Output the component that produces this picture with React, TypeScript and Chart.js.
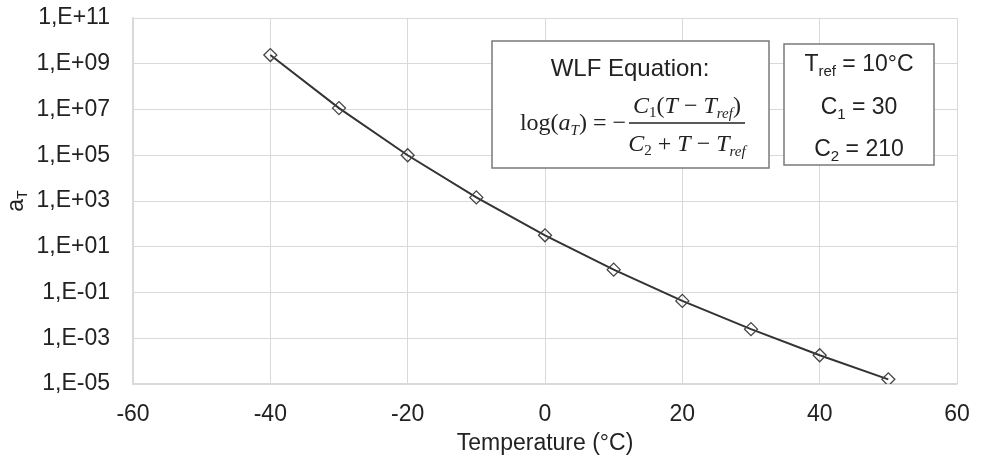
import React, { useEffect, useRef } from "react";
import { Chart, registerables } from "chart.js";

Chart.register(...registerables);

// ---- data ----
const temperatures = [-40, -30, -20, -10, 0, 10, 20, 30, 40, 50];
const shiftFactors = [2.4e9, 1.15e7, 1.0e5, 1.44e3, 31.6, 1.0, 4.3e-2, 2.5e-3, 1.8e-4, 1.6e-5];
const yTickValues = [1e-5, 1e-3, 1e-1, 1e1, 1e3, 1e5, 1e7, 1e9, 1e11];
const xTickValues = [-60, -40, -20, 0, 20, 40, 60];
const xAxisTitle = "Temperature (°C)";
const equationTitle = "WLF Equation:";
const constantLabels = ["10°C", "30", "210"];

const SANS = '"Liberation Sans", Arial, sans-serif';
const SERIF = '"Liberation Serif", "Times New Roman", serif';
const TEXT = "#222222";
const GRID = "#d9d9d9";

type Run = { t: string; f: string; dy?: number };

function runsWidth(ctx: CanvasRenderingContext2D, runs: Run[]) {
  let w = 0;
  for (const r of runs) {
    ctx.font = r.f;
    w += ctx.measureText(r.t).width;
  }
  return w;
}

function drawRuns(ctx: CanvasRenderingContext2D, runs: Run[], x: number, y: number, align: "left" | "center" | "right") {
  const w = runsWidth(ctx, runs);
  let cx = align === "left" ? x : align === "center" ? x - w / 2 : x - w;
  ctx.textAlign = "left";
  ctx.textBaseline = "alphabetic";
  for (const r of runs) {
    ctx.font = r.f;
    ctx.fillText(r.t, cx, y + (r.dy || 0));
    cx += ctx.measureText(r.t).width;
  }
}

const annotationPlugin = {
  id: "wlfAnnotations",
  afterDraw(chart: any) {
    const ctx: CanvasRenderingContext2D = chart.ctx;
    ctx.save();
    ctx.fillStyle = TEXT;

    // y-axis title a_T (rotated)
    ctx.save();
    ctx.translate(16, 201);
    ctx.rotate(-Math.PI / 2);
    drawRuns(ctx, [
      { t: "a", f: `23px ${SANS}` },
      { t: "T", f: `14px ${SANS}`, dy: 4 },
    ], 0, 7, "center");
    ctx.restore();

    // Equation box
    const bx = 492, by = 41, bw = 277, bh = 127;
    ctx.fillStyle = "#ffffff";
    ctx.fillRect(bx, by, bw, bh);
    ctx.strokeStyle = "#7a7a7a";
    ctx.lineWidth = 1.5;
    ctx.strokeRect(bx, by, bw, bh);
    ctx.fillStyle = TEXT;
    ctx.font = `24px ${SANS}`;
    ctx.textAlign = "center";
    ctx.textBaseline = "alphabetic";
    ctx.fillText(equationTitle, 630, 76);

    const up = `24px ${SERIF}`;
    const it = `italic 24px ${SERIF}`;
    const smUp = `15px ${SERIF}`;
    const smIt = `italic 15px ${SERIF}`;
    drawRuns(ctx, [
      { t: "log(", f: up },
      { t: "a", f: it },
      { t: "T", f: smIt, dy: 5 },
      { t: ") = \u2212", f: up },
    ], 626, 130, "right");
    // fraction bar
    ctx.strokeStyle = TEXT;
    ctx.lineWidth = 1.3;
    ctx.beginPath();
    ctx.moveTo(629, 123);
    ctx.lineTo(745, 123);
    ctx.stroke();
    drawRuns(ctx, [
      { t: "C", f: it },
      { t: "1", f: smUp, dy: 4 },
      { t: "(", f: up },
      { t: "T", f: it },
      { t: " \u2212 ", f: up },
      { t: "T", f: it },
      { t: "ref", f: smIt, dy: 5 },
      { t: ")", f: up },
    ], 687, 113, "center");
    drawRuns(ctx, [
      { t: "C", f: it },
      { t: "2", f: smUp, dy: 4 },
      { t: " + ", f: up },
      { t: "T", f: it },
      { t: " \u2212 ", f: up },
      { t: "T", f: it },
      { t: "ref", f: smIt, dy: 5 },
    ], 687, 151, "center");

    // Constants box
    const cx0 = 784, cy0 = 44, cw = 150, ch = 121;
    ctx.fillStyle = "#ffffff";
    ctx.fillRect(cx0, cy0, cw, ch);
    ctx.strokeStyle = "#7a7a7a";
    ctx.lineWidth = 1.5;
    ctx.strokeRect(cx0, cy0, cw, ch);
    ctx.fillStyle = TEXT;
    const big = `23px ${SANS}`;
    const sm = `15px ${SANS}`;
    drawRuns(ctx, [
      { t: "T", f: big },
      { t: "ref", f: sm, dy: 5 },
      { t: " = " + constantLabels[0], f: big },
    ], 859, 71, "center");
    drawRuns(ctx, [
      { t: "C", f: big },
      { t: "1", f: sm, dy: 5 },
      { t: " = " + constantLabels[1], f: big },
    ], 859, 114, "center");
    drawRuns(ctx, [
      { t: "C", f: big },
      { t: "2", f: sm, dy: 5 },
      { t: " = " + constantLabels[2], f: big },
    ], 859, 156, "center");

    ctx.restore();
  },
};

function formatExp(v: number) {
  const e = Math.round(Math.log10(v));
  const sign = e >= 0 ? "+" : "-";
  return `1,E${sign}${String(Math.abs(e)).padStart(2, "0")}`;
}

export default function App() {
  const ref = useRef<HTMLCanvasElement | null>(null);

  useEffect(() => {
    if (!ref.current) return;
    const chart = new Chart(ref.current, {
      type: "line",
      data: {
        datasets: [
          {
            data: temperatures.map((t, i) => ({ x: t, y: shiftFactors[i] })),
            borderColor: "#333333",
            borderWidth: 2,
            pointStyle: "rectRot",
            pointRadius: 6.5,
            pointBorderWidth: 1.3,
            pointBorderColor: "#444444",
            pointBackgroundColor: "rgba(255,255,255,0)",
            tension: 0,
          },
        ],
      },
      options: {
        responsive: false,
        animation: false,
        devicePixelRatio: 1,
        layout: { padding: { left: 0, right: 29, top: 18, bottom: 0 } },
        plugins: {
          legend: { display: false },
          tooltip: { enabled: false },
        },
        scales: {
          x: {
            type: "linear",
            min: -60,
            max: 60,
            afterBuildTicks: (scale: any) => {
              scale.ticks = xTickValues.map((v) => ({ value: v }));
            },
            afterFit: (scale: any) => {
              scale.height = 77;
              scale.paddingLeft = 0;
              scale.paddingRight = 0;
            },
            grid: { color: GRID, lineWidth: 1, drawTicks: false },
            border: { color: GRID, width: 1.5 },
            ticks: {
              padding: 17,
              color: TEXT,
              font: { family: SANS, size: 23 },
              maxRotation: 0,
            },
            title: {
              display: true,
              text: xAxisTitle,
              color: TEXT,
              font: { family: SANS, size: 23 },
              padding: { top: 0, bottom: 4 },
            },
          },
          y: {
            type: "logarithmic",
            min: 1e-5,
            max: 1e11,
            afterBuildTicks: (scale: any) => {
              scale.ticks = yTickValues.map((v) => ({ value: v }));
            },
            afterFit: (scale: any) => {
              scale.width = 133;
              scale.paddingTop = 0;
              scale.paddingBottom = 0;
            },
            grid: { color: GRID, lineWidth: 1, drawTicks: false },
            border: { color: GRID, width: 1.5 },
            ticks: {
              padding: 23,
              color: TEXT,
              font: { family: SANS, size: 23 },
              callback: (v: any) => formatExp(Number(v)),
            },
          },
        },
      },
      plugins: [annotationPlugin],
    } as any);
    return () => chart.destroy();
  }, []);

  return (
    <div style={{ position: "absolute", left: 0, top: 0, width: 986, height: 461, background: "#ffffff" }}>
      <canvas ref={ref} width={986} height={461} style={{ display: "block" }} />
    </div>
  );
}
